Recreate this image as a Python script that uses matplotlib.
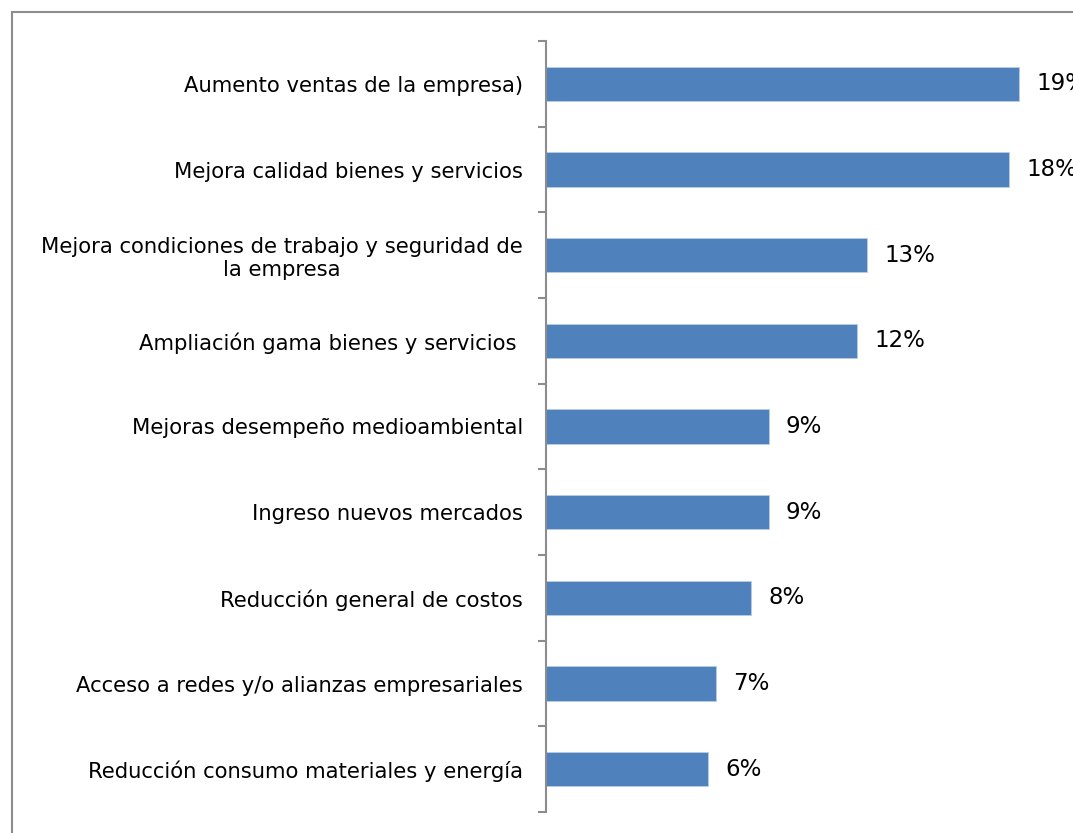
import matplotlib.pyplot as plt
from matplotlib.patches import Rectangle

categories = [
    'Aumento ventas de la empresa)',
    'Mejora calidad bienes y servicios',
    'Mejora condiciones de trabajo y seguridad de\nla empresa',
    'Ampliación gama bienes y servicios ',
    'Mejoras desempeño medioambiental',
    'Ingreso nuevos mercados',
    'Reducción general de costos',
    'Acceso a redes y/o alianzas empresariales',
    'Reducción consumo materiales y energía',
]
values = [18.7, 18.3, 12.7, 12.3, 8.8, 8.8, 8.1, 6.7, 6.4]

plt.rcParams['font.family'] = ['DejaVu Sans']

fig = plt.figure(figsize=(10.73, 8.33), dpi=100)
fig.patches.append(Rectangle((12/1073, -0.2), 1.5, 1.2 - 12/833,
                             transform=fig.transFigure, fill=False,
                             edgecolor='#8c8c8c', linewidth=1.5))

ax = fig.add_axes([546/1073, 21/833, 527/1073, 771/833])
pos = list(range(len(categories)))
ax.barh(pos, values, height=0.4, color='#4f81bd', edgecolor='#b9cde5', linewidth=0.6)
ax.set_ylim(len(categories) - 0.5, -0.5)
ax.set_xlim(0, 527/25.3)

# etiquetas de valor (la de 19% queda cortada como en el original)
for p, v in zip(pos, values):
    ax.text(v + 0.68, p, f'{round(v):.0f}%', va='center', ha='left',
            fontsize=16.5, clip_on=False)

ax.set_yticks([i - 0.5 for i in range(len(categories) + 1)])
ax.set_yticklabels([])
ax.tick_params(axis='y', which='major', length=6, width=1.5, color='#8c8c8c', direction='out')
ax.set_yticks(pos, minor=True)
ax.set_yticklabels(categories, minor=True, fontsize=15.2)
ax.tick_params(axis='y', which='minor', length=0, pad=16.5)
for lbl in ax.get_yticklabels(minor=True):
    lbl.set_multialignment('center')

ax.set_xticks([])
for s in ['top', 'right', 'bottom']:
    ax.spines[s].set_visible(False)
ax.spines['left'].set_color('#8c8c8c')
ax.spines['left'].set_linewidth(1.5)

fig.savefig('out.png', dpi=100)
